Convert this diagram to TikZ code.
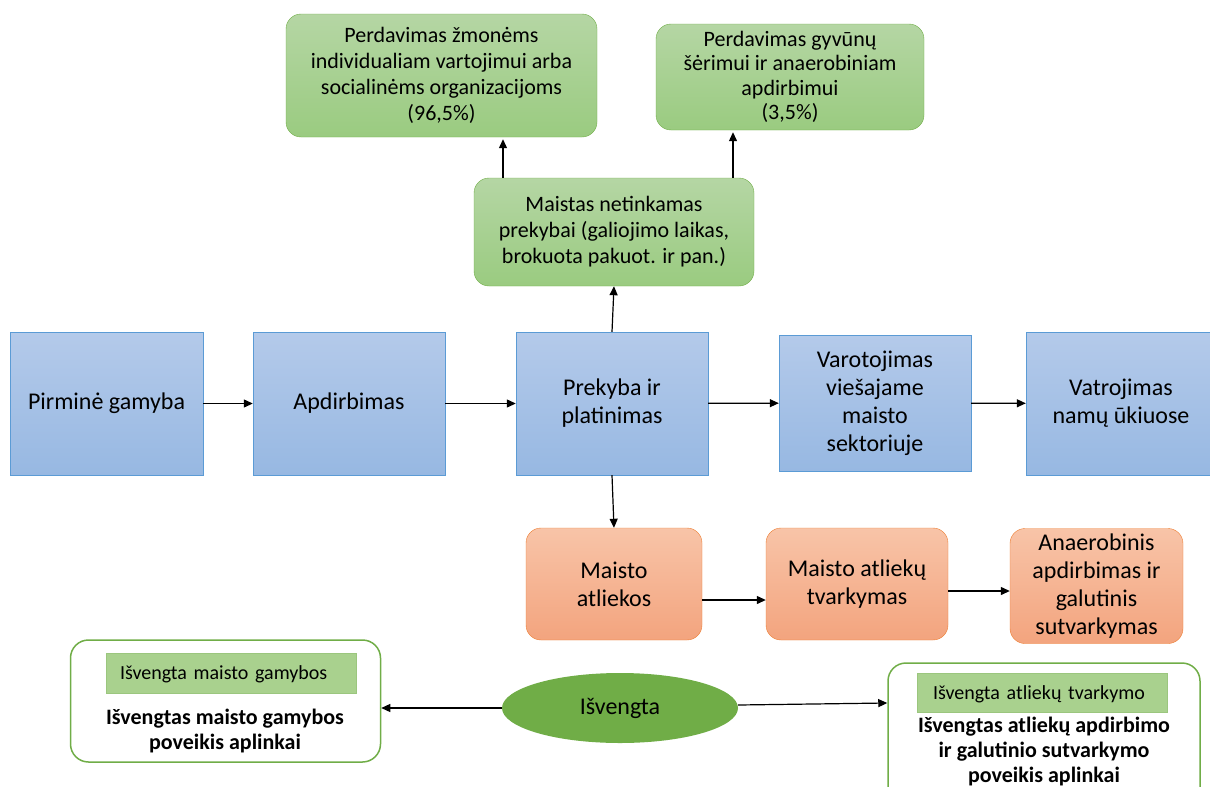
\documentclass[tikz,border=0pt]{standalone}
\usepackage{fontspec}
\setmainfont{Carlito}
\usetikzlibrary{arrows.meta,positioning,shapes.geometric}
\definecolor{blueedge}{HTML}{5B9BD5}
\definecolor{bluetop}{HTML}{B4CAEA}
\definecolor{bluebot}{HTML}{97B8E2}
\definecolor{greenedge}{HTML}{70AD47}
\definecolor{greentop}{HTML}{B5D6A4}
\definecolor{greenbot}{HTML}{9ACB80}
\definecolor{orangeedge}{HTML}{ED7D31}
\definecolor{orangetop}{HTML}{F8C4A8}
\definecolor{orangebot}{HTML}{F3A47E}
\definecolor{taggreen}{HTML}{A9D18E}
\definecolor{darkgreen}{HTML}{70AD47}
\tikzset{
  stage/.style={rectangle,draw=blueedge,top color=bluetop,bottom color=bluebot,align=center,inner sep=0pt,font=\fontsize{24}{28}\selectfont},
  reuse/.style={rectangle,rounded corners=15pt,draw=greenedge,top color=greentop,bottom color=greenbot,align=center,inner sep=0pt,font=\fontsize{22}{26}\selectfont},
  waste/.style={rectangle,rounded corners=15pt,draw=orangeedge,top color=orangetop,bottom color=orangebot,align=center,inner sep=0pt,font=\fontsize{24}{28}\selectfont},
  gainbox/.style={rectangle,rounded corners=18pt,draw=greenedge,line width=1.5pt,fill=white,inner sep=0pt},
  gaintag/.style={rectangle,draw=greenedge!70,fill=taggreen,inner sep=0pt,align=left,text depth=0pt,font=\fontsize{20}{24}\selectfont},
  gaintext/.style={align=center,inner sep=0pt,font=\fontsize{22}{25}\selectfont\bfseries},
  arrow/.style={-{Triangle[length=9pt,width=8pt]},line width=1.2pt,black}
}
\begin{document}
\begin{tikzpicture}[x=1pt,y=-1pt]
    \useasboundingbox (0,0) rectangle (1210,787);
    % main chain
    \node[stage,minimum width=193pt,minimum height=143pt] (prim) at (106.5,403.5) {Pirminė gamyba};
    \node[stage,minimum width=192pt,minimum height=143pt] (apd) at (349,403.5) {Apdirbimas};
    \node[stage,minimum width=192pt,minimum height=143pt] (prek) at (612,403.5) {Prekyba ir\\platinimas};
    \node[stage,minimum width=192pt,minimum height=136pt] (visuom) at (875,403) {Varotojimas\\viešajame\\maisto\\sektoriuje};
    \node[stage,minimum width=190pt,minimum height=143pt] (namu) at (1121,403.5) {Vatrojimas\\namų ūkiuose};
    % redistribution
    \node[reuse,minimum width=280pt,minimum height=108pt] (netink) at (614,232) {Maistas netinkamas\\prekybai (galiojimo laikas,\\brokuota pakuot. ir pan.)};
    \node[reuse,minimum width=311pt,minimum height=123pt] (zmones) at (441.5,75.5) {Perdavimas žmonėms\\individualiam vartojimui arba\\socialinėms organizacijoms\\(96,5\%)};
    \node[reuse,minimum width=268pt,minimum height=106pt,font=\fontsize{22}{24.5}\selectfont] (gyvunai) at (790,77) {Perdavimas gyvūnų\\šėrimui ir anaerobiniam\\apdirbimui\\(3,5\%)};
    % waste
    \node[waste,minimum width=176pt,minimum height=112pt] (atliekos) at (614,584) {Maisto\\atliekos};
    \node[waste,minimum width=182pt,minimum height=112pt] (tvark) at (857,584) {Maisto atliekų\\tvarkymas};
    \node[waste,minimum width=173pt,minimum height=115pt] (anaer) at (1096.5,586) {Anaerobinis\\apdirbimas ir\\galutinis\\sutvarkymas};
    % avoided
    \node[ellipse,fill=darkgreen,minimum width=236pt,minimum height=70pt,inner sep=0pt,font=\fontsize{24}{28}\selectfont] (isvengta) at (620,708) {Išvengta};
    \node[gainbox,minimum width=310pt,minimum height=122pt] (gamyba) at (225.5,701) {};
    \node[gaintag,minimum width=250pt,minimum height=40pt,text width=222pt] (gamybatag) at (231,673) {Išvengta maisto gamybos};
    \node[gaintext] (gamybatxt) at (225,731) {Išvengtas maisto gamybos\\poveikis aplinkai};
    \node[gainbox,minimum width=312pt,minimum height=150pt] (tvarkymas) at (1044,738) {};
    \node[gaintag,minimum width=250pt,minimum height=39pt,text width=218pt] (tvarkymastag) at (1042,692.5) {Išvengta atliekų tvarkymo};
    \node[gaintext] (tvarkymastxt) at (1044,752) {Išvengtas atliekų apdirbimo\\ir galutinio sutvarkymo\\poveikis aplinkai};
    % connectors
    \draw[arrow] (prim) -- (apd);
    \draw[arrow] (apd) -- (prek);
    \draw[arrow] (prek) -- (visuom);
    \draw[arrow] (visuom) -- (namu);
    \draw[arrow] (prek.north) -- (netink.south);
    \draw[arrow] ([xshift=-111pt]netink.north) -- ([xshift=-111pt,yshift=-2pt]netink.north |- zmones.south);
    \draw[arrow] ([xshift=119pt]netink.north) -- ([xshift=119pt,yshift=-2pt]netink.north |- gyvunai.south);
    \draw[arrow] (prek.south) -- (atliekos.north);
    \draw[arrow] ([yshift=-16pt]atliekos.east) -- ([yshift=-16pt]atliekos.east -| tvark.west);
    \draw[arrow] ([yshift=-7pt]tvark.east) -- ([yshift=-7pt]tvark.east -| anaer.west);
    \draw[arrow] (isvengta.west) -- (isvengta.west -| gamyba.east);
    \draw[arrow] ([yshift=3pt]isvengta.east) -- ([yshift=5pt]isvengta.east -| tvarkymas.west);
  \end{tikzpicture}
\end{document}
